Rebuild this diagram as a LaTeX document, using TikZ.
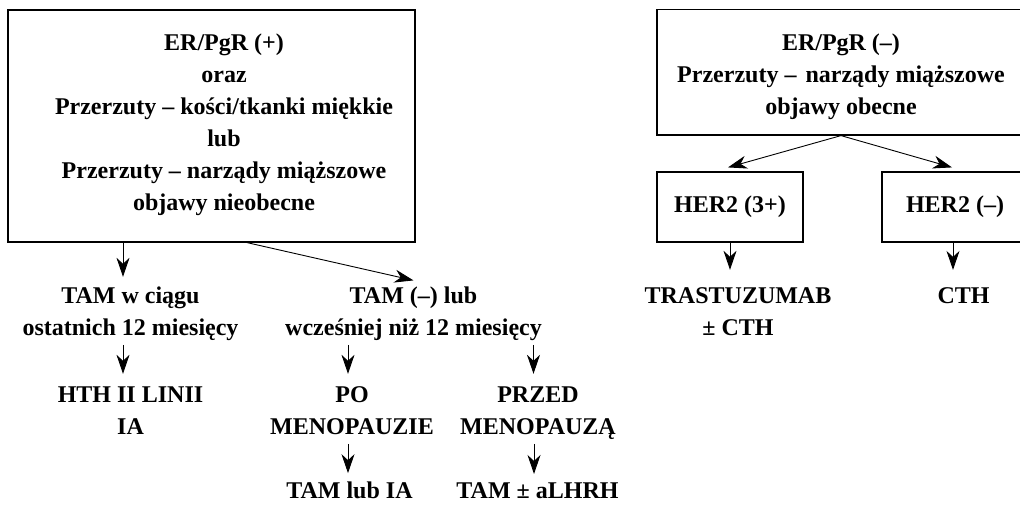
\documentclass[tikz,border=0pt]{standalone}
\usepackage{fontspec}
\setmainfont{Liberation Serif}
\usetikzlibrary{arrows.meta}
\newcommand\mlines[1]{\begin{tabular}[t]{@{}c@{}}#1\end{tabular}}
\begin{document}
\begin{tikzpicture}[x=1pt,y=-1pt,
  box/.style={draw, line width=1.2pt, inner sep=0pt, font=\fontsize{24}{32}\selectfont\bfseries},
  txt/.style={inner sep=0pt, anchor=base, font=\fontsize{24}{32}\selectfont\bfseries},
  arr/.style={line width=0.9pt, -{Stealth[length=19pt,width=13pt,inset=6pt]}}]
\useasboundingbox (0,0) rectangle (1020,504);
\clip (0,0) rectangle (1020,504);
% boxes
\node[box, minimum width=407pt, minimum height=232pt] (boxL) at (211.5,126) {};
\node[box, minimum width=368pt, minimum height=125.5pt] (boxR) at (841,72.25) {};
\node[box, minimum width=146pt, minimum height=70pt] (her3) at (730,207) {HER2 (3+)};
\node[box, minimum width=146pt, minimum height=70pt] (herN) at (955,207) {HER2 (–)};
% texts
\node[txt] (txtL) at (224,50) {\mlines{ER/PgR (+)\\oraz\\Przerzuty – kości/tkanki miękkie\\lub\\Przerzuty – narządy miąższowe\\objawy nieobecne}};
\node[txt] (txtR) at (841,50) {\mlines{ER/PgR (–)\\Przerzuty –\hspace{3pt} narządy miąższowe\\objawy obecne}};
\node[txt] (tamA) at (130.5,303) {\mlines{TAM w ciągu\\ostatnich 12 miesięcy}};
\node[txt] (tamB) at (413.5,303) {\mlines{TAM (–) lub\\wcześniej niż 12 miesięcy}};
\node[txt] (hth) at (130.5,402) {\mlines{HTH II LINII\\IA}};
\node[txt] (po) at (352,402) {\mlines{PO\\MENOPAUZIE}};
\node[txt] (przed) at (538,402) {\mlines{PRZED\\MENOPAUZĄ}};
\node[txt] (tamlub) at (349.5,498) {TAM lub IA};
\node[txt] (tampm) at (537.5,498) {TAM ± aLHRH};
\node[txt] (tras) at (738,303) {\mlines{TRASTUZUMAB\\± CTH}};
\node[txt] (cth) at (963.5,303) {CTH};
% connectors
\draw[arr] ([xshift=-88.5pt]boxL.south) -- ([xshift=-7.5pt,yshift=3.6pt]tamA.north);
\draw[arr] ([xshift=35.5pt]boxL.south) -- (tamB.north);
\draw[arr] ([xshift=-7.5pt]tamA.south) -- ([xshift=-7.5pt,yshift=5.6pt]hth.north);
\draw[arr] ([xshift=-65.5pt]tamB.south) -- ([xshift=-4pt,yshift=5.6pt]po.north);
\draw[arr] ([xshift=120pt]tamB.south) -- ([xshift=-4.5pt,yshift=5.6pt]przed.north);
\draw[arr] ([xshift=-4pt]po.south) -- ([xshift=-1.5pt,yshift=8pt]tamlub.north);
\draw[arr] ([xshift=-4pt]przed.south) -- ([xshift=-3.5pt,yshift=8pt]tampm.north);
\draw[arr] (boxR.south) -- ([xshift=-2pt,yshift=4pt]her3.north);
\draw[arr] (boxR.south) -- ([xshift=-3pt,yshift=4pt]herN.north);
\draw[arr] (her3.south) -- ([xshift=-8pt,yshift=10.6pt]tras.north);
\draw[arr] ([xshift=-2pt]herN.south) -- ([xshift=-10.5pt,yshift=17pt]cth.north);
\end{tikzpicture}
\end{document}
